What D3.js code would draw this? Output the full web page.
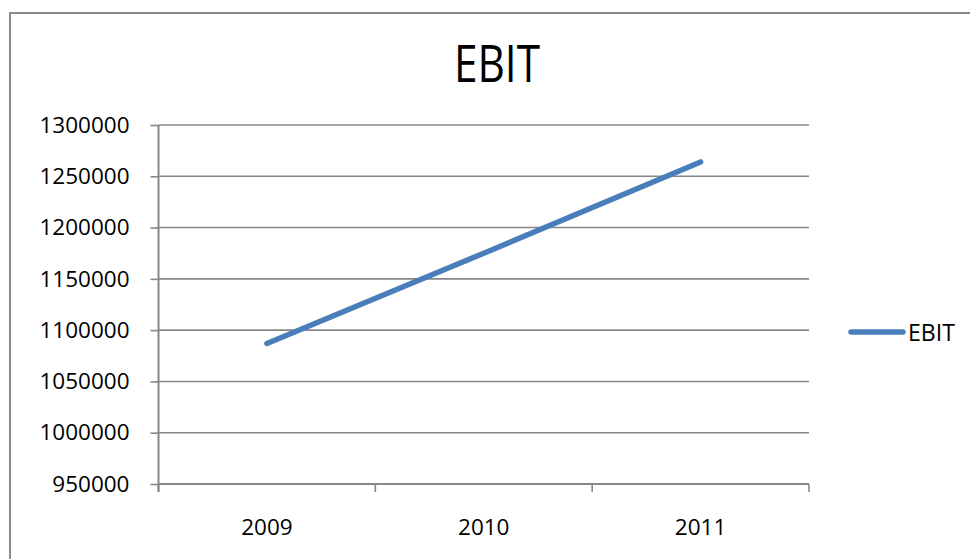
<!DOCTYPE html>
<html>
<head>
<meta charset="utf-8">
<script src="https://d3js.org/d3.v7.min.js"></script>
<style>
  html, body { margin: 0; padding: 0; background: #fff; }
  svg { display: block; }
</style>
</head>
<body>
<svg id="chart" width="970" height="559"></svg>
<script>
// EBIT by year
const years = ["2009", "2010", "2011"];
const ebitValues = [1087000, 1175000, 1264000];
const yTicks = [950000, 1000000, 1050000, 1100000, 1150000, 1200000, 1250000, 1300000];
const seriesName = "EBIT";

const svg = d3.select("#chart");
const W = 970, H = 559;
const plot = { left: 158.5, right: 809, top: 125, bottom: 484 };
const gridColor = "#878787";
const lineColor = "#4a7ebb";
const labelFont = "'Open Sans', 'Noto Sans', sans-serif";

// outer chart frame
svg.append("rect")
  .attr("x", 10).attr("y", 13)
  .attr("width", W + 20).attr("height", H + 20)
  .attr("fill", "#fff")
  .attr("stroke", "#8a8a8a").attr("stroke-width", 2);

// title (condensed)
svg.append("text")
  .attr("x", 454).attr("y", 82)
  .attr("font-family", labelFont)
  .attr("font-size", 51)
  .attr("textLength", 86)
  .attr("lengthAdjust", "spacingAndGlyphs")
  .attr("fill", "#000")
  .text(seriesName);

const x = d3.scaleBand().domain(years).range([plot.left, plot.right]).padding(0);
const y = d3.scaleLinear().domain([950000, 1300000]).range([plot.bottom, plot.top]);

// horizontal gridlines
svg.append("g")
  .selectAll("line")
  .data(yTicks)
  .join("line")
  .attr("x1", plot.left).attr("x2", plot.right)
  .attr("y1", d => y(d)).attr("y2", d => y(d))
  .attr("stroke", gridColor).attr("stroke-width", 1.6);

// y axis
const yAxis = d3.axisLeft(y).tickValues(yTicks).tickSize(8).tickPadding(21).tickFormat(d3.format("d"));
const gy = svg.append("g").attr("transform", `translate(${plot.left},0)`).call(yAxis);
gy.select(".domain").attr("stroke", gridColor).attr("stroke-width", 2)
  .attr("d", `M0,${plot.top}V${plot.bottom + 8}`);
gy.selectAll(".tick line").attr("stroke", gridColor).attr("stroke-width", 1.6);
gy.selectAll(".tick text")
  .attr("font-family", labelFont).attr("font-size", 22.5).attr("fill", "#000");

// x axis: ticks between categories, labels centered in bands
const gx = svg.append("g").attr("transform", `translate(0,${plot.bottom})`);
gx.append("line")
  .attr("x1", plot.left).attr("x2", plot.right)
  .attr("stroke", gridColor).attr("stroke-width", 2);
const boundaries = years.map(d => x(d) + x.bandwidth()).concat([x(years[0])]);
gx.selectAll("line.tk")
  .data(boundaries)
  .join("line")
  .attr("class", "tk")
  .attr("x1", d => d).attr("x2", d => d)
  .attr("y1", 0).attr("y2", 8)
  .attr("stroke", gridColor).attr("stroke-width", 1.6);
gx.selectAll("text")
  .data(years)
  .join("text")
  .attr("x", d => x(d) + x.bandwidth() / 2)
  .attr("y", 51)
  .attr("text-anchor", "middle")
  .attr("font-family", labelFont).attr("font-size", 22.5).attr("fill", "#000")
  .text(d => d);

// series line
const line = d3.line()
  .x((d, i) => x(years[i]) + x.bandwidth() / 2)
  .y(d => y(d));
svg.append("path")
  .datum(ebitValues)
  .attr("d", line)
  .attr("fill", "none")
  .attr("stroke", lineColor)
  .attr("stroke-width", 5.5)
  .attr("stroke-linecap", "round")
  .attr("stroke-linejoin", "round");

// legend
const lg = svg.append("g").attr("transform", "translate(851,332)");
lg.append("line")
  .attr("x1", 0).attr("x2", 52)
  .attr("stroke", lineColor).attr("stroke-width", 5.5)
  .attr("stroke-linecap", "round");
lg.append("text")
  .attr("x", 57).attr("y", 9)
  .attr("font-family", labelFont).attr("font-size", 24)
  .attr("textLength", 47)
  .attr("lengthAdjust", "spacingAndGlyphs")
  .attr("fill", "#000")
  .text(seriesName);
</script>
</body>
</html>
